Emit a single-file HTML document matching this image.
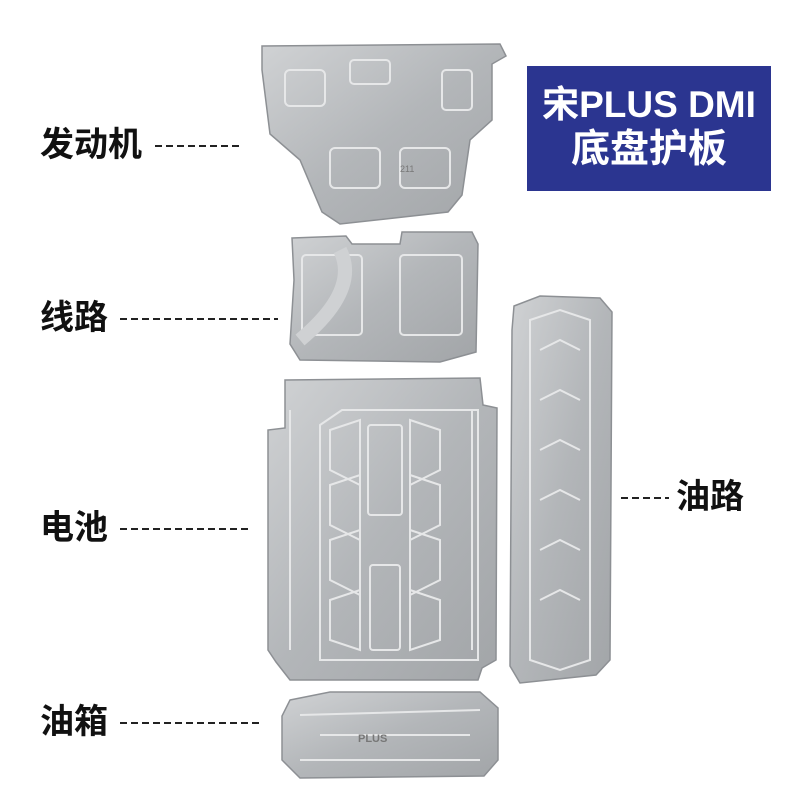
<!DOCTYPE html>
<html><head><meta charset="utf-8"><style>
html,body{margin:0;padding:0;background:#fff}
body{width:790px;height:792px;position:relative;overflow:hidden;font-family:"Liberation Sans","Noto Sans CJK SC",sans-serif}
.lbl{position:absolute;font-weight:bold;font-size:34px;color:#111;white-space:nowrap;line-height:1}
.d{position:absolute;height:2px;background:repeating-linear-gradient(90deg,#222 0 7px,transparent 7px 11px)}
.box{position:absolute;left:527px;top:66px;width:244px;height:125px;background:#2b3590;color:#fff;text-align:center;font-weight:bold}
</style></head><body>
<svg width="790" height="792" style="position:absolute;left:0;top:0">
<defs>
<linearGradient id="g" x1="0" y1="0" x2="1" y2="1">
<stop offset="0" stop-color="#d0d2d4"/><stop offset="0.5" stop-color="#b3b6b9"/><stop offset="1" stop-color="#a2a5a8"/></linearGradient>
</defs>
<g fill="url(#g)" stroke="#8d9094" stroke-width="1.5">
<path d="M262 46 L500 44 L506 56 L492 64 L492 120 L470 140 L462 195 L448 212 L340 224 L322 212 L300 160 L270 134 L262 70 Z"/>
<path d="M292 238 L346 236 L352 244 L400 244 L402 232 L472 232 L478 244 L476 352 L440 362 L300 360 L290 344 L294 280 Z"/>
<path d="M285 380 L480 378 L483 405 L497 408 L496 660 L482 668 L478 680 L290 680 L276 662 L268 650 L268 430 L285 428 Z"/>
<path d="M514 306 L540 296 L600 298 L612 312 L610 660 L596 675 L520 683 L510 666 L512 330 Z"/>
<path d="M290 700 L330 692 L480 692 L498 708 L498 760 L484 776 L300 778 L282 760 L282 716 Z"/>
</g>
<g fill="none" stroke="#e6e7e8" stroke-width="2">
<rect x="285" y="70" width="40" height="36" rx="5"/><rect x="350" y="60" width="40" height="24" rx="4"/><rect x="442" y="70" width="30" height="40" rx="4"/><rect x="330" y="148" width="50" height="40" rx="5"/><rect x="400" y="148" width="50" height="40" rx="5"/>
<rect x="302" y="255" width="60" height="80" rx="4"/><rect x="400" y="255" width="62" height="80" rx="4"/>
<path d="M340 250 Q360 290 300 340" stroke-width="14" stroke="#cfd1d3"/>
<path d="M320 425 L342 410 L478 410 L478 660 L320 660 Z"/>
<path d="M330 430 L360 420 L360 485 L330 470 Z M330 485 L360 475 L360 540 L330 525 Z M330 540 L360 530 L360 595 L330 580 Z M330 600 L360 590 L360 650 L330 640 Z"/>
<path d="M410 420 L440 430 L440 470 L410 485 Z M410 475 L440 485 L440 525 L410 540 Z M410 530 L440 540 L440 580 L410 595 Z M410 590 L440 600 L440 640 L410 650 Z"/>
<rect x="368" y="425" width="34" height="90" rx="3"/><rect x="370" y="565" width="30" height="85" rx="3"/>
<path d="M290 410 L290 650 M472 410 L472 650"/>
<path d="M530 320 L560 310 L590 320 L590 660 L560 670 L530 660 Z"/>
<path d="M540 350 L560 340 L580 350 M540 400 L560 390 L580 400 M540 450 L560 440 L580 450 M540 500 L560 490 L580 500 M540 550 L560 540 L580 550 M540 600 L560 590 L580 600"/>
<path d="M300 715 L480 710 M300 760 L480 760 M320 735 L470 735"/>
</g>
<text x="358" y="742" font-size="11" fill="#777" font-family="Liberation Sans" font-weight="bold">PLUS</text>
<text x="400" y="172" font-size="9" fill="#777" font-family="Liberation Sans">211</text>
</svg>
<div class="lbl" style="left:40px;top:128px">发动机</div>
<div class="d" style="left:155px;top:145px;width:88px"></div>
<div class="lbl" style="left:40px;top:301px">线路</div>
<div class="d" style="left:120px;top:318px;width:158px"></div>
<div class="lbl" style="left:40px;top:511px">电池</div>
<div class="d" style="left:120px;top:528px;width:132px"></div>
<div class="lbl" style="left:40px;top:705px">油箱</div>
<div class="d" style="left:120px;top:722px;width:143px"></div>
<div class="d" style="left:621px;top:497px;width:48px"></div>
<div class="lbl" style="left:676px;top:480px">油路</div>
<div class="box"><div style="font-size:37px;margin-top:18px;line-height:42px">宋PLUS DMI</div><div style="font-size:39px;line-height:48px">底盘护板</div></div>
</body></html>
